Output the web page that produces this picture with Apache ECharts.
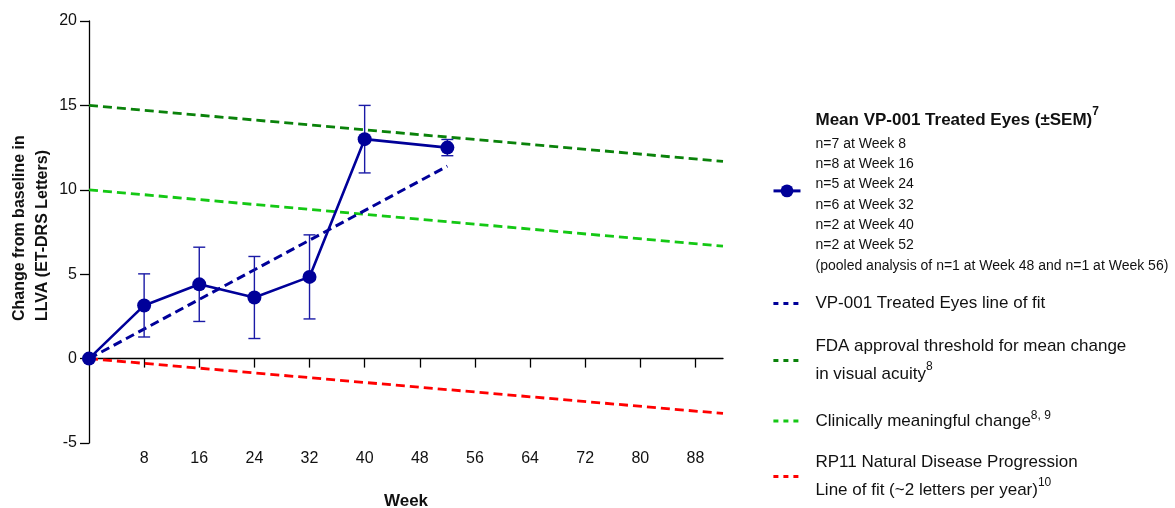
<!DOCTYPE html>
<html><head><meta charset="utf-8">
<script src="https://cdn.jsdelivr.net/npm/echarts@6/dist/echarts.min.js"></script>
<style>html,body{margin:0;padding:0;background:#fff}#c{width:1175px;height:508px}</style>
</head><body><div id="c"></div>
<script>
// ---- data ----
const weeks = [0, 8, 16, 24, 32, 40, 52];
const meanChange = [0, 3.15, 4.4, 3.62, 4.84, 13.0, 12.5];
const sem = [0, 1.87, 2.2, 2.43, 2.49, 2.0, 0.48];
const fitWeeks = [0, 52];
const fitValues = [0, 11.4];
const refWeeks = [0, 92];
const fdaThreshold = [15, 11.68];
const clinicalChange = [10, 6.66];
const naturalProgression = [0, -3.25];
const xTickValues = [8, 16, 24, 32, 40, 48, 56, 64, 72, 80, 88];
const yMin = -5, yMax = 20, yStep = 5;
const xMin = 0, xMax = 92;
const seriesNames = ['Mean VP-001 Treated Eyes (±SEM)', 'VP-001 Treated Eyes line of fit',
  'FDA approval threshold for mean change in visual acuity', 'Clinically meaningful change',
  'RP11 Natural Disease Progression Line of fit (~2 letters per year)'];
const nLines = ['n=7 at Week 8', 'n=8 at Week 16', 'n=5 at Week 24', 'n=6 at Week 32',
  'n=2 at Week 40', 'n=2 at Week 52', '(pooled analysis of n=1 at Week 48 and n=1 at Week 56)'];
const yTitleLines = ['Change from baseline in', 'LLVA (ET-DRS Letters)'];
const xTitle = 'Week';

// ---- styles ----
const FONT = 'Liberation Sans, Arial, sans-serif';
const TXT = '#111';
const C_MEAN = '#000099', C_ERR = '#1a1aa6', C_FDA = '#0a820a', C_CLIN = '#14c814', C_RED = '#ff0000';

const pair = (xs, ys) => xs.map((x, i) => [x, ys[i]]);
const errData = weeks.map((w, i) => [w, meanChange[i] - sem[i], meanChange[i] + sem[i]]).filter((d, i) => sem[i] > 0);

const chart = echarts.init(document.getElementById('c'), null, {renderer: 'canvas'});

const richStyles = {
  t: {fontFamily: FONT, fontSize: 17, fontWeight: 'bold', color: TXT, lineHeight: 27.7},
  ts: {fontFamily: FONT, fontSize: 12, fontWeight: 'bold', color: TXT, lineHeight: 19, verticalAlign: 'top'},
  n: {fontFamily: FONT, fontSize: 14, color: TXT, lineHeight: 20.3},
  m: {fontFamily: FONT, fontSize: 17, color: TXT, lineHeight: 28},
  m1: {fontFamily: FONT, fontSize: 17, color: TXT, lineHeight: 22},
  s: {fontFamily: FONT, fontSize: 12, color: TXT, lineHeight: 20, verticalAlign: 'top'},
  s1: {fontFamily: FONT, fontSize: 12, color: TXT, lineHeight: 15, verticalAlign: 'top'}
};

const mkLegend = (idx, top, formatter, dashed) => ({
  orient: 'vertical', left: 772, top, padding: 0,
  itemWidth: 27, itemHeight: dashed ? 14 : 16,
  selectedMode: false,
  data: [seriesNames[idx]],
  formatter,
  itemStyle: dashed ? {color: 'rgba(0,0,0,0)', borderColor: 'rgba(0,0,0,0)', borderWidth: 0} : {},
  lineStyle: dashed ? {type: [5, 5], width: 2.8} : {width: 3},
  textStyle: {fontFamily: FONT, color: TXT, padding: [0, 0, 0, 10], rich: richStyles}
});

const legends = [
  mkLegend(0, 106, () => '{t|Mean VP-001 Treated Eyes (±SEM)}{ts|7}\n' + nLines.map(l => '{n|' + l + '}').join('\n'), false),
  mkLegend(1, 295, () => '{m1|VP-001 Treated Eyes line of fit}', true),
  mkLegend(2, 338, () => '{m|FDA approval threshold for mean change}\n{m|in visual acuity}{s|8}', true),
  mkLegend(3, 410, () => '{m1|Clinically meaningful change}{s1|8, 9}', true),
  mkLegend(4, 454, () => '{m|RP11 Natural Disease Progression}\n{m|Line of fit (~2 letters per year)}{s|10}', true)
];

const dashLine = (name, data, color, width, z) => ({
  name, type: 'line', xAxisIndex: 0, yAxisIndex: 0, data, symbol: 'none', z,
  lineStyle: {color, width, type: [9, 5], cap: 'butt'}, itemStyle: {color},
  silent: true, animation: false
});

const option = {
  animation: false,
  backgroundColor: '#fff',
  textStyle: {fontFamily: FONT},
  grid: {left: 89, top: 21, width: 634, height: 422, containLabel: false, outerBoundsMode: 'none'},
  legend: legends,
  xAxis: [
    {
      type: 'value', min: xMin, max: xMax, interval: 8, position: 'bottom',
      axisLine: {show: true, onZero: true, lineStyle: {color: '#000', width: 1.3}},
      axisTick: {show: true, length: 9, customValues: xTickValues, lineStyle: {color: '#000', width: 1.3}},
      axisLabel: {show: false},
      splitLine: {show: false}
    },
    {
      type: 'value', min: xMin, max: xMax, interval: 8, position: 'bottom',
      axisLine: {show: false, onZero: false},
      axisTick: {show: false},
      axisLabel: {show: true, customValues: xTickValues, fontSize: 16, color: TXT, fontFamily: FONT, margin: 8},
      splitLine: {show: false},
      name: xTitle, nameLocation: 'middle', nameGap: 50,
      nameTextStyle: {fontSize: 17, fontWeight: 'bold', color: TXT, fontFamily: FONT}
    }
  ],
  yAxis: {
    type: 'value', min: yMin, max: yMax, interval: yStep,
    axisLine: {show: true, onZero: false, lineStyle: {color: '#000', width: 1.3}},
    axisTick: {show: true, length: 9, lineStyle: {color: '#000', width: 1.3}},
    axisLabel: {fontSize: 16, color: TXT, fontFamily: FONT, margin: 12},
    splitLine: {show: false}
  },
  graphic: [{
    type: 'text', x: 8, y: 321, rotation: Math.PI / 2, silent: true,
    style: {text: yTitleLines.join('\n'), font: 'bold 16px ' + FONT, fill: TXT,
      align: 'left', verticalAlign: 'top', lineHeight: 23}
  }],
  series: [
    dashLine(seriesNames[2], pair(refWeeks, fdaThreshold), C_FDA, 2.8, 2),
    dashLine(seriesNames[3], pair(refWeeks, clinicalChange), C_CLIN, 2.8, 2),
    dashLine(seriesNames[4], pair(refWeeks, naturalProgression), C_RED, 2.8, 2),
    dashLine(seriesNames[1], pair(fitWeeks, fitValues), C_MEAN, 3, 3),
    {
      name: 'sem', type: 'custom', xAxisIndex: 0, yAxisIndex: 0, z: 4, silent: true,
      data: errData,
      renderItem: (params, api) => {
        const x = api.value(0), lo = api.value(1), hi = api.value(2);
        const a = api.coord([x, hi]), b = api.coord([x, lo]);
        const hw = 6;
        const st = {stroke: C_ERR, lineWidth: 1.4};
        return {type: 'group', children: [
          {type: 'line', shape: {x1: a[0], y1: a[1], x2: b[0], y2: b[1]}, style: st},
          {type: 'line', shape: {x1: a[0] - hw, y1: a[1], x2: a[0] + hw, y2: a[1]}, style: st},
          {type: 'line', shape: {x1: b[0] - hw, y1: b[1], x2: b[0] + hw, y2: b[1]}, style: st}
        ]};
      }
    },
    {
      name: seriesNames[0], type: 'line', xAxisIndex: 0, yAxisIndex: 0, z: 5,
      data: pair(weeks, meanChange), symbol: 'circle', symbolSize: 14,
      lineStyle: {color: C_MEAN, width: 2.6}, itemStyle: {color: C_MEAN},
      silent: true
    }
  ]
};
chart.setOption(option);
</script>
</body></html>
